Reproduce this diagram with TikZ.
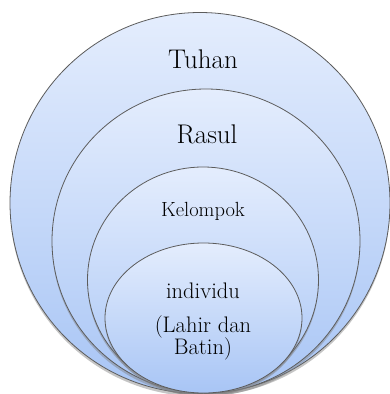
\documentclass[tikz,border=0pt]{standalone}
\usetikzlibrary{shapes.geometric,shadows}
\definecolor{ringtop}{HTML}{E4EDFD}
\definecolor{ringbot}{HTML}{A8C5F5}
\definecolor{ringedge}{HTML}{5C5C5C}

\begin{document}
\begin{tikzpicture}[x=1pt,y=-1pt,
    ring/.style={ellipse,draw=ringedge,line width=0.8pt,inner sep=0pt,
                 top color=ringtop,bottom color=ringbot,
                 drop shadow={shadow xshift=0pt,shadow yshift=-3pt,opacity=0.45}},
    big/.style={anchor=base,inner sep=0pt,font=\fontsize{27}{30}\selectfont},
    mid/.style={anchor=base,inner sep=0pt,font=\fontsize{22.5}{26}\selectfont},
    small/.style={anchor=base,inner sep=0pt,font=\fontsize{20.5}{24}\selectfont}]

  \useasboundingbox[fill=white] (0,0) rectangle (390,394);

  % nested rings, outer to inner
  \node[ring,minimum width=380pt,minimum height=381pt] (tuhan) at (200,203) {};
  \node[ring,minimum width=308pt,minimum height=304pt] (rasul) at (206,241) {};
  \node[ring,minimum width=231pt,minimum height=226pt] (kelompok) at (203,280) {};
  \node[ring,minimum width=197pt,minimum height=150pt] (individu) at (203.5,318) {};

  % labels
  \node[big] (tuhanlbl) at (203,68) {Tuhan};
  \node[big] (rasullbl) at (207,143) {Rasul};
  \node[small] (kelompoklbl) at (203,216) {Kelompok};
  \node[mid] (individulbl) at (203,298) {individu};
  \node[mid] (lahirlbl) at (203,332) {(Lahir dan};
  \node[mid] (batinlbl) at (203,354) {Batin)};
\end{tikzpicture}
\end{document}
